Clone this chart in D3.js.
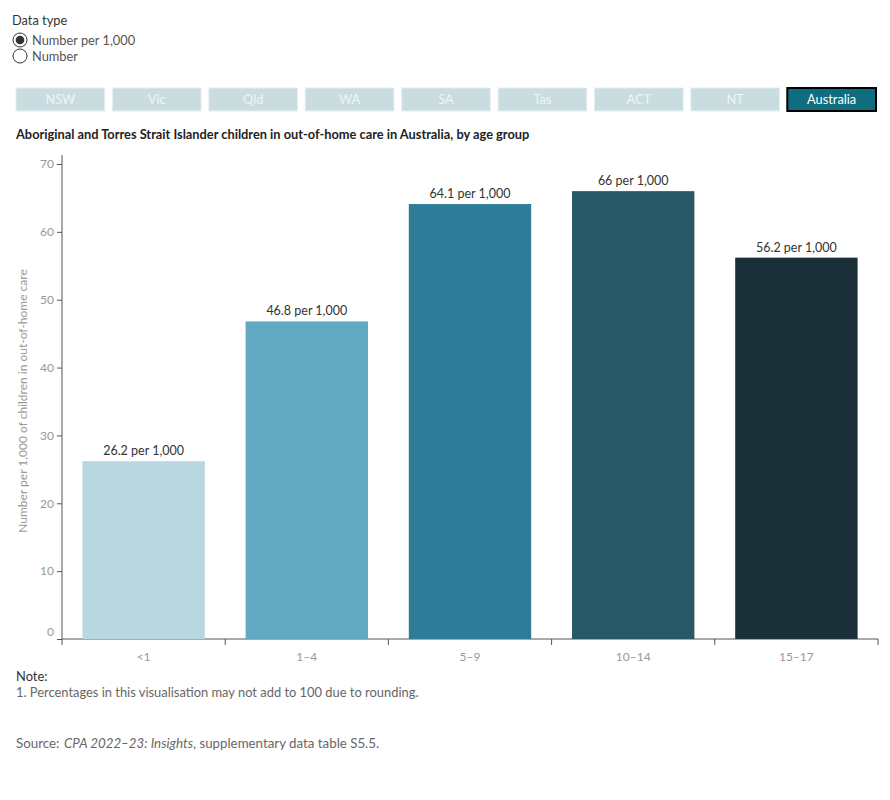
<!DOCTYPE html>
<html><head><meta charset="utf-8">
<script src="https://cdn.jsdelivr.net/npm/d3@7"></script>
<style>body{margin:0;background:#fff;font-family:Lato,"Open Sans",sans-serif;}</style>
</head><body>
<svg id="c" width="890" height="800"></svg>
<script>
const categories = ["<1","1–4","5–9","10–14","15–17"];
const values = [26.2, 46.8, 64.1, 66, 56.2];
const labels = ["26.2 per 1,000","46.8 per 1,000","64.1 per 1,000","66 per 1,000","56.2 per 1,000"];
const colors = ["#b9d7e0","#61a9c0","#2d7d98","#285766","#1b2f38"];
const yTicks = [0,10,20,30,40,50,60,70];
const states = ["NSW","Vic","Qld","WA","SA","Tas","ACT","NT","Australia"];

const svg = d3.select("#c");
const font = "Lato, 'Open Sans', sans-serif";

// Data type radio
svg.append("text").attr("x",12).attr("y",25).attr("font-size",12.8).attr("fill","#333").attr("font-family",font).text("Data type");
const radios = ["Number per 1,000","Number"];
radios.forEach((r,i)=>{
  const cy = 40 + i*16;
  svg.append("circle").attr("cx",20).attr("cy",cy).attr("r",7).attr("fill","#fff").attr("stroke","#333").attr("stroke-width",1);
  if(i===0) svg.append("circle").attr("cx",20).attr("cy",cy).attr("r",4.3).attr("fill","#333");
  svg.append("text").attr("x",32).attr("y",cy+4.5).attr("font-size",12.8).attr("fill","#555").attr("font-family",font).text(r);
});

// State buttons
const bx = d3.scaleBand().domain(states).range([16,876]).paddingInner(0.08);
states.forEach(s=>{
  const sel = s==="Australia";
  svg.append("rect").attr("x",bx(s)).attr("y",88).attr("width",bx.bandwidth()).attr("height",23)
    .attr("fill", sel?"#0e6e80":"#c9dde0").attr("stroke", sel?"#000":"#e6eef0").attr("stroke-width", sel?2:1);
  svg.append("text").attr("x",bx(s)+bx.bandwidth()/2).attr("y",104).attr("text-anchor","middle")
    .attr("font-size",12.8).attr("fill", sel?"#fff":"#eef4f5").attr("font-family",font).text(s);
});

// Title
svg.append("text").attr("x",16).attr("y",139).attr("font-size",12.8).attr("font-weight","bold").attr("fill","#222").attr("font-family",font)
  .text("Aboriginal and Torres Strait Islander children in out-of-home care in Australia, by age group");

// Scales
const x = d3.scaleBand().domain(categories).range([62,878]).paddingInner(0.25).paddingOuter(0.125);
const y = d3.scaleLinear().domain([0,70]).range([639,164]);

// Y axis
const yAxis = svg.append("g").attr("transform","translate(62,0)")
  .call(d3.axisLeft(y).tickValues(yTicks).tickSize(5).tickPadding(3));
yAxis.select(".domain").attr("d","M0,155V639").attr("stroke","#555");
yAxis.selectAll(".tick line").attr("stroke","#555");
yAxis.selectAll(".tick text").attr("fill","#999").attr("font-size",12).attr("font-family",font);
yAxis.selectAll(".tick").filter(d=>d===0).select("text").attr("dy","-0.3em");

// X axis
const xAxis = svg.append("g").attr("transform","translate(0,639)")
  .call(d3.axisBottom(x).tickSize(0).tickPadding(13));
xAxis.select(".domain").attr("d","M62,0H878").attr("stroke","#555");
xAxis.selectAll(".tick text").attr("fill","#999").attr("font-size",12).attr("font-family",font);
const bounds = categories.map(c=>x(c)-x.step()*x.paddingInner()/2).concat([878]);
bounds[0]=62;
svg.append("g").selectAll("line").data(bounds).join("line")
  .attr("x1",d=>d).attr("x2",d=>d).attr("y1",639).attr("y2",645).attr("stroke","#555");

// Y axis title
svg.append("text").attr("transform","translate(27,401) rotate(-90)").attr("text-anchor","middle")
  .attr("font-size",12).attr("fill","#999").attr("font-family",font).text("Number per 1,000 of children in out-of-home care");

// Bars
svg.append("g").selectAll("rect").data(values).join("rect")
  .attr("x",(d,i)=>x(categories[i])).attr("width",x.bandwidth())
  .attr("y",d=>y(d)).attr("height",d=>y(0)-y(d)).attr("fill",(d,i)=>colors[i]);
svg.append("g").selectAll("text").data(values).join("text")
  .attr("x",(d,i)=>x(categories[i])+x.bandwidth()/2).attr("y",d=>y(d)-6).attr("text-anchor","middle")
  .attr("font-size",12.5).attr("fill","#333").attr("font-family",font).text((d,i)=>labels[i]);

// Notes
svg.append("text").attr("x",16).attr("y",681).attr("font-size",12.9).attr("fill","#333").attr("font-family",font).text("Note:");
svg.append("text").attr("x",16).attr("y",697).attr("font-size",12.9).attr("fill","#666").attr("font-family",font).text("1. Percentages in this visualisation may not add to 100 due to rounding.");
const src = svg.append("text").attr("x",16).attr("y",748).attr("font-size",13.3).attr("fill","#666").attr("font-family",font).attr("xml:space","preserve");
src.append("tspan").text("Source:");
src.append("tspan").attr("x",64).attr("font-style","italic").text("CPA 2022–23: Insights");
src.append("tspan").text(", supplementary data table S5.5.");
</script>
</body></html>
